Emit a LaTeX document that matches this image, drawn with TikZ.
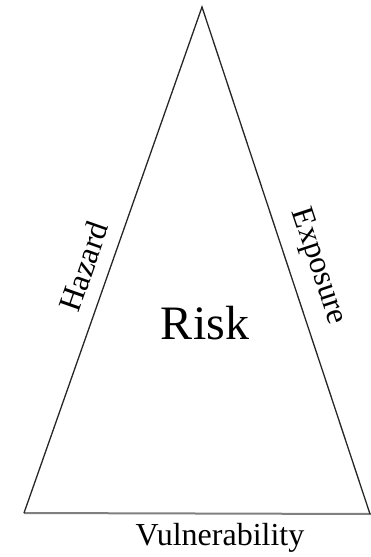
\documentclass[tikz,border=0pt]{standalone}
\usepackage{fontspec}
\setmainfont{Liberation Serif}
\begin{document}
\begin{tikzpicture}[x=1pt,y=-1pt,
  edge/.style={line width=1.3pt,draw=black!85},
  base/.style={line width=2pt,draw=black!50},
  lbl/.style={font=\fontsize{32}{38}\selectfont,inner sep=0pt}]
\useasboundingbox (0,0) rectangle (371,557);
\coordinate (A) at (202,7);
\coordinate (L) at (24,513);
\coordinate (R) at (370,514);
\coordinate (E) at (371,514);
\draw[base] (L) -- (E);
\draw[edge,line join=miter] (L) -- (A) -- (R);
\path (L) -- (A) node[lbl,pos=0.47,sloped,above=14pt] (haz) {Hazard};
\path (A) -- (R) node[lbl,pos=0.53,sloped,above=14pt] (exp) {Exposure};
\node[font=\fontsize{48}{56}\selectfont,inner sep=0pt,anchor=base] (risk) at (205,339) {Risk};
\node[lbl,anchor=base] (vul) at (220,545) {Vulnerability};
\end{tikzpicture}
\end{document}
